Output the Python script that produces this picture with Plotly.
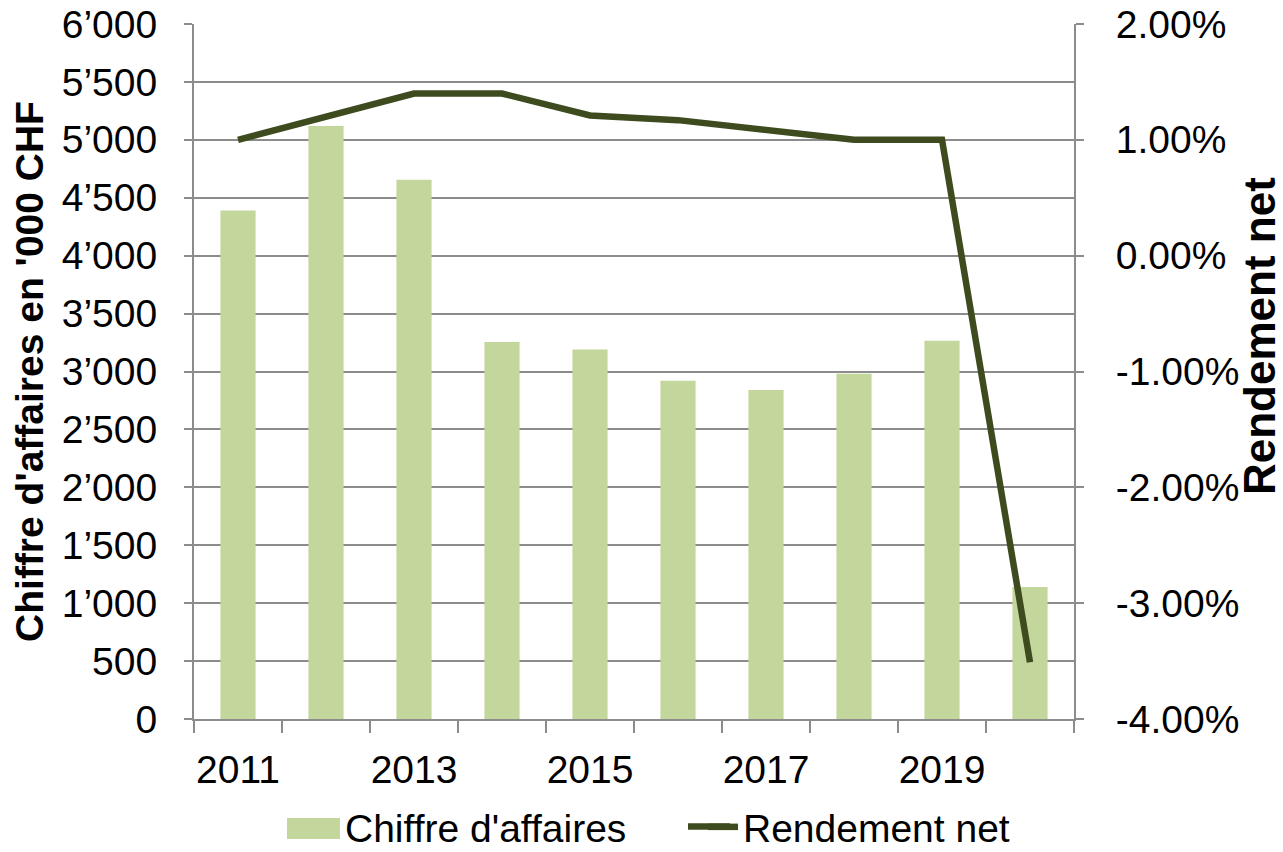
import plotly.graph_objects as go

years = [2011, 2012, 2013, 2014, 2015, 2016, 2017, 2018, 2019, 2020]
chiffre_affaires = [4390, 5120, 4655, 3255, 3190, 2920, 2840, 2980, 3265, 1140]
rendement_net = [1.00, 1.20, 1.40, 1.40, 1.21, 1.17, 1.09, 1.00, 1.00, -3.51]
year_labels = [2011, 2013, 2015, 2017, 2019]
left_ticks = list(range(0, 6001, 500))
right_ticks = [-4, -3, -2, -1, 0, 1, 2]
right_tick_text = [f"{v:.2f}%" for v in right_ticks]

FONT = "Liberation Sans, Arial, sans-serif"
GRID = "#8c8c8c"
BAR = "#C3D69B"
LINE = "#3D4B1E"

W, H = 1283, 852
ML, MT, MR, MB = 194, 24, 209, 133
PX0, PY0, PW, PH = ML, MT, W - ML - MR, H - MT - MB  # plot area in pixels


def px(x):
    return (x - PX0) / PW


def py(y):
    return (PY0 + PH - y) / PH


LEG_Y = 827

fig = go.Figure()
fig.add_trace(go.Bar(
    x=years, y=chiffre_affaires, name="Chiffre d'affaires",
    marker=dict(color=BAR, line=dict(width=0)),
    width=0.4, yaxis="y",
))
fig.add_trace(go.Scatter(
    x=years, y=rendement_net, name="Rendement net", mode="lines",
    line=dict(color=LINE, width=6.5), yaxis="y2",
))

fig.update_layout(
    width=W, height=H,
    margin=dict(l=ML, r=MR, t=MT, b=MB, autoexpand=False),
    paper_bgcolor="white", plot_bgcolor="white",
    font=dict(family=FONT, size=39, color="black"),
    separators=".\u2019",
    showlegend=True,
    legend=dict(orientation="h", x=px(305), xanchor="left", y=py(LEG_Y), yanchor="middle",
                font=dict(size=39), entrywidth=353, entrywidthmode="pixels",
                bgcolor="rgba(0,0,0,0)"),
    xaxis=dict(
        range=[2010.5, 2020.5], tickmode="array", tickvals=year_labels,
        ticktext=[str(v) for v in year_labels], ticks="", showgrid=False,
        showline=True, linecolor=GRID, linewidth=2, zeroline=False,
        ticklabelstandoff=15,
        minor=dict(ticks="outside", tick0=2010.5, dtick=1, ticklen=12,
                   tickcolor=GRID, tickwidth=2, showgrid=False),
    ),
    yaxis=dict(
        range=[0, 6000], tickmode="array", tickvals=left_ticks,
        tickformat=",d", ticks="outside", ticklen=8, tickcolor=GRID, tickwidth=2,
        showgrid=True, gridcolor=GRID, gridwidth=2,
        showline=True, linecolor=GRID, linewidth=2, zeroline=False,
        ticklabelstandoff=19, ticklabeloverflow="allow",
        title=dict(text="<b>Chiffre d'affaires en '000 CHF</b>", standoff=6,
                   font=dict(size=39)),
    ),
    yaxis2=dict(
        range=[-4, 2], tickmode="array", tickvals=right_ticks, ticktext=right_tick_text,
        overlaying="y", side="right",
        ticks="outside", ticklen=8, tickcolor=GRID, tickwidth=2,
        showgrid=False, showline=True, linecolor=GRID, linewidth=2, zeroline=False,
        ticklabelstandoff=24, ticklabeloverflow="allow",
    ),
    annotations=[dict(
        text="<b>Rendement net</b>", xref="paper", yref="paper",
        x=px(1259), y=py(336), xanchor="center", yanchor="middle",
        textangle=-90, showarrow=False, font=dict(size=44, family=FONT, color="black"),
    )],
    shapes=[
        # larger legend swatches, as in the original
        dict(type="rect", xref="paper", yref="paper", layer="above",
             x0=px(287), x1=px(340), y0=py(LEG_Y + 12), y1=py(LEG_Y - 9),
             fillcolor=BAR, line=dict(width=0)),
        dict(type="line", xref="paper", yref="paper", layer="above",
             x0=px(688), x1=px(730), y0=py(LEG_Y - 0.5), y1=py(LEG_Y - 0.5),
             line=dict(color=LINE, width=6.5)),
    ],
)

fig.write_html("out.html", config={"displayModeBar": False},
               post_script="document.body.style.margin='0';")
